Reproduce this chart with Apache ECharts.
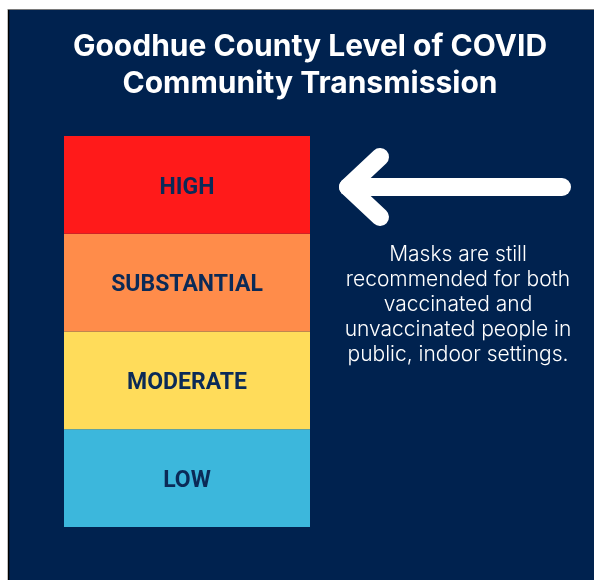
<!DOCTYPE html>
<html>
<head>
<meta charset="utf-8">
<script src="https://cdn.jsdelivr.net/npm/echarts@6/dist/echarts.min.js"></script>
<style>
html,body{margin:0;padding:0;background:#ffffff;}
#chart{width:594px;height:580px;}
</style>
</head>
<body>
<div id="chart"></div>
<script>
// ---- data ----
const titleLines = ['Goodhue County Level of COVID', 'Community Transmission'];
const categories = ['Goodhue County'];
const levels = ['LOW', 'MODERATE', 'SUBSTANTIAL', 'HIGH'];   // bottom to top
const bandValues = [1, 1, 1, 1];
const noteLines = [
  'Masks are still',
  'recommended for both',
  'vaccinated and',
  'unvaccinated people in',
  'public, indoor settings.'
];

// ---- styles ----
const NAVY = '#00224f';
const LABEL_NAVY = '#0b2a57';
const levelColors = {
  LOW: '#3cb7dc',
  MODERATE: '#ffdc5a',
  SUBSTANTIAL: '#ff8c4a',
  HIGH: '#ff1a1a'
};

const chart = echarts.init(document.getElementById('chart'), null, {renderer: 'canvas'});

const series = levels.map(function (lv, i) {
  return {
    name: lv,
    type: 'bar',
    stack: 'level',
    barWidth: '100%',
    data: [bandValues[i]],
    itemStyle: {color: levelColors[lv]},
    label: {
      show: true,
      position: 'inside',
      offset: [0, 3],
      formatter: lv,
      color: LABEL_NAVY,
      fontFamily: 'Roboto',
      fontWeight: 'bold',
      fontSize: 23
    },
    emphasis: {disabled: true},
    silent: true
  };
});

chart.setOption({
  backgroundColor: NAVY,
  animation: false,
  title: [
    {
      text: titleLines.join('\n'),
      left: 305,
      top: 23,
      textAlign: 'center',
      textStyle: {
        color: '#ffffff',
        fontFamily: 'Inter',
        fontWeight: 'bold',
        fontSize: 30,
        lineHeight: 37
      }
    },
    {
      text: noteLines.join('\n'),
      left: 453,
      top: 237,
      textAlign: 'center',
      textStyle: {
        color: '#ffffff',
        fontFamily: 'Inter',
        fontWeight: 300,
        fontSize: 21,
        lineHeight: 25
      }
    }
  ],
  grid: {left: 64, top: 136, width: 246, height: 391, containLabel: false},
  xAxis: {type: 'category', data: categories, show: false},
  yAxis: {type: 'value', min: 0, max: 4, show: false},
  series: series,
  graphic: [
    {type: 'rect', shape: {x: 0, y: 0, width: 594, height: 9}, style: {fill: '#ffffff'}, silent: true, z: 100},
    {type: 'rect', shape: {x: 0, y: 0, width: 8, height: 580}, style: {fill: '#ffffff'}, silent: true, z: 100},
    {type: 'line', shape: {x1: 8.5, y1: 9, x2: 8.5, y2: 580}, style: {stroke: '#000000', lineWidth: 1.5}, silent: true, z: 101},
    {type: 'line', shape: {x1: 8, y1: 9.5, x2: 594, y2: 9.5}, style: {stroke: '#7a7a7a', lineWidth: 1}, silent: true, z: 101},
    {
      type: 'polyline',
      shape: {points: [[380, 157], [348, 187], [380, 217]]},
      style: {stroke: '#ffffff', lineWidth: 18, lineCap: 'round', lineJoin: 'round', fill: null},
      silent: true, z: 50
    },
    {
      type: 'line',
      shape: {x1: 348, y1: 187, x2: 562, y2: 187},
      style: {stroke: '#ffffff', lineWidth: 18, lineCap: 'round'},
      silent: true, z: 50
    }
  ]
});
</script>
</body>
</html>
